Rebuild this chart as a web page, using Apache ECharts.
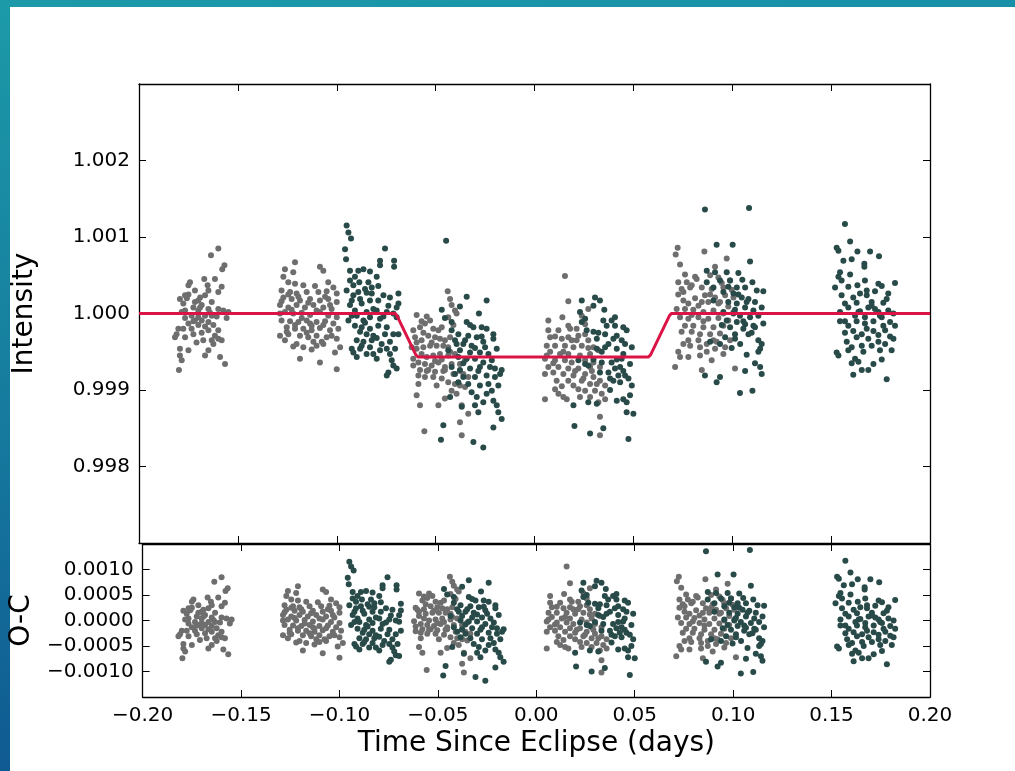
<!DOCTYPE html>
<html>
<head>
<meta charset="utf-8">
<script src="https://cdn.jsdelivr.net/npm/echarts@6/dist/echarts.min.js"></script>
<style>
html,body{margin:0;padding:0;width:1015px;height:771px;overflow:hidden;background:#fff;}
#topstrip{position:absolute;left:0;top:0;width:1015px;height:7px;background:linear-gradient(to right,#1c9aa9,#1790a8);}
#leftstrip{position:absolute;left:0;top:0;width:10px;height:771px;background:linear-gradient(to bottom,#1c9aa8,#167a9e 55%,#0f5a92);}
#chart{position:absolute;left:0;top:0;width:1015px;height:771px;}
</style>
</head>
<body>
<div id="topstrip"></div>
<div id="leftstrip"></div>
<div id="chart"></div>
<script>
// ---- Data (time since eclipse in days, normalized intensity) ----
const xTicks = [-0.20, -0.15, -0.10, -0.05, 0.00, 0.05, 0.10, 0.15, 0.20];
const intensityTicks = [0.998, 0.999, 1.000, 1.001, 1.002];
const ocTicks = [-0.0010, -0.0005, 0.0000, 0.0005, 0.0010];

// eclipse model curve
const modelTime = [-0.2, -0.0705, -0.0695, -0.0600, -0.0588, 0.0575, 0.0587, 0.0682, 0.0692, 0.2];
const modelFlux = [1.0, 1.0, 0.99997, 0.99946, 0.99943, 0.99943, 0.99946, 0.99997, 1.0, 1.0];

const grayA = [[-0.1599,1.00085],[-0.1636,1.00076],[-0.1568,1.00063],[-0.1579,1.00058],[-0.1670,1.00045],[-0.1616,1.00045],[-0.1742,1.00041],[-0.1750,1.00037],[-0.1653,1.00037],[-0.1582,1.00035],[-0.1649,1.00030],[-0.1599,1.00028],[-0.1793,1.00019],[-0.1767,1.00024],[-0.1750,1.00025],[-0.1691,1.00021],[-0.1666,1.00024],[-0.1700,1.00017],[-0.1717,1.00015],[-0.1632,1.00015],[-0.1683,1.00011],[-0.1776,1.00013],[-0.1725,1.00008],[-0.1767,1.00004],[-0.1784,1.00002],[-0.1700,1.00004],[-0.1649,1.00006],[-0.1599,1.00006],[-0.1574,1.00004],[-0.1548,1.00002],[-0.1734,0.99997],[-0.1700,0.99995],[-0.1666,0.99997],[-0.1632,0.99997],[-0.1607,0.99996],[-0.1557,0.99994],[-0.1767,0.99994],[-0.1717,0.99991],[-0.1683,0.99991],[-0.1649,0.99989],[-0.1750,0.99987],[-0.1700,0.99985],[-0.1666,0.99983],[-0.1624,0.99985],[-0.1801,0.99980],[-0.1776,0.99980],[-0.1734,0.99980],[-0.1649,0.99978],[-0.1599,0.99978],[-0.1810,0.99973],[-0.1725,0.99973],[-0.1616,0.99971],[-0.1818,0.99969],[-0.1767,0.99969],[-0.1599,0.99967],[-0.1632,0.99965],[-0.1582,0.99965],[-0.1675,0.99965],[-0.1793,0.99954],[-0.1750,0.99952],[-0.1649,0.99952],[-0.1666,0.99945],[-0.1793,0.99945],[-0.1590,0.99943],[-0.1784,0.99939],[-0.1565,0.99934],[-0.1798,0.99926],
  [-0.1717,1.00030],[-0.1691,1.00008],[-0.1641,1.00001],[-0.1725,0.99990],[-0.1683,0.99975],[-0.1758,1.00020],[-0.1624,0.99960],[-0.1709,0.99962]];

const grayB = [[-0.1211,1.00067],[-0.1262,1.00058],[-0.1220,1.00054],[-0.1085,1.00061],[-0.1068,1.00056],[-0.1270,1.00048],[-0.1245,1.00041],[-0.1211,1.00039],[-0.1169,1.00037],[-0.1110,1.00036],[-0.1043,1.00041],[-0.1017,1.00034],[-0.1279,1.00030],[-0.1236,1.00028],[-0.1203,1.00026],[-0.1152,1.00028],[-0.1093,1.00028],[-0.1051,1.00029],[-0.1000,1.00026],[-0.1270,1.00021],[-0.1228,1.00019],[-0.1186,1.00017],[-0.1135,1.00019],[-0.1085,1.00017],[-0.1043,1.00019],[-0.1000,1.00015],[-0.1287,1.00011],[-0.1245,1.00008],[-0.1203,1.00011],[-0.1161,1.00008],[-0.1118,1.00011],[-0.1068,1.00008],[-0.1026,1.00006],[-0.1262,1.00002],[-0.1220,1.00000],[-0.1177,1.00001],[-0.1135,0.99998],[-0.1085,1.00002],[-0.1043,0.99997],[-0.1000,0.99995],[-0.1279,0.99991],[-0.1236,0.99990],[-0.1194,0.99989],[-0.1152,0.99991],[-0.1102,0.99989],[-0.1059,0.99990],[-0.1017,0.99987],[-0.1253,0.99982],[-0.1211,0.99980],[-0.1169,0.99980],[-0.1127,0.99978],[-0.1085,0.99981],[-0.1034,0.99978],[-0.0992,0.99980],[-0.1287,0.99971],[-0.1245,0.99973],[-0.1186,0.99971],[-0.1144,0.99969],[-0.1102,0.99971],[-0.1051,0.99969],[-0.1000,0.99967],[-0.1262,0.99965],[-0.1203,0.99960],[-0.1118,0.99963],[-0.1076,0.99963],[-0.1220,0.99957],[-0.1169,0.99956],[-0.1127,0.99953],[-0.0983,0.99956],[-0.1068,0.99960],[-0.1009,0.99949],[-0.1186,0.99941],[-0.1085,0.99936],[-0.1000,0.99927],[-0.1253,0.99976],[-0.1287,1.00000],[-0.1135,0.99987],[-0.1026,0.99971],
  [-0.1245,1.00025],[-0.1194,1.00022],[-0.1144,1.00014],[-0.1102,1.00004],[-0.1059,1.00022],[-0.1228,1.00005],[-0.1177,0.99994],[-0.1127,0.99984],[-0.1068,0.99985],[-0.1211,0.99985],[-0.1152,0.99975],[-0.1034,1.00011],[-0.1279,1.00016],[-0.1102,0.99958]];

const darkB = [[-0.0950,1.00115],[-0.0941,1.00106],[-0.0928,1.00098],[-0.0958,1.00084],[-0.0953,1.00071],[-0.0756,1.00085],[-0.0781,1.00069],[-0.0710,1.00069],[-0.0781,1.00063],[-0.0710,1.00061],[-0.0933,1.00056],[-0.0891,1.00056],[-0.0865,1.00058],[-0.0832,1.00055],[-0.0798,1.00048],[-0.0908,1.00048],[-0.0933,1.00043],[-0.0886,1.00041],[-0.0840,1.00041],[-0.0916,1.00037],[-0.0857,1.00032],[-0.0823,1.00034],[-0.0790,1.00036],[-0.0950,1.00030],[-0.0891,1.00028],[-0.0849,1.00027],[-0.0764,1.00024],[-0.0731,1.00021],[-0.0688,1.00026],[-0.0924,1.00017],[-0.0882,1.00019],[-0.0832,1.00017],[-0.0790,1.00017],[-0.0688,1.00013],[-0.0697,1.00008],[-0.0933,1.00011],[-0.0908,1.00004],[-0.0849,1.00002],[-0.0798,1.00004],[-0.0747,1.00002],[-0.0714,1.00000],[-0.0899,0.99997],[-0.0865,0.99991],[-0.0832,0.99995],[-0.0781,0.99993],[-0.0941,0.99991],[-0.0908,0.99984],[-0.0874,0.99982],[-0.0832,0.99980],[-0.0790,0.99984],[-0.0747,0.99982],[-0.0697,0.99995],[-0.0882,0.99976],[-0.0849,0.99973],[-0.0815,0.99971],[-0.0756,0.99973],[-0.0714,0.99973],[-0.0688,0.99973],[-0.0899,0.99965],[-0.0865,0.99963],[-0.0823,0.99965],[-0.0773,0.99960],[-0.0731,0.99963],[-0.0924,0.99954],[-0.0882,0.99954],[-0.0832,0.99956],[-0.0781,0.99952],[-0.0747,0.99954],[-0.0705,0.99954],[-0.0899,0.99943],[-0.0849,0.99947],[-0.0815,0.99947],[-0.0731,0.99947],[-0.0722,0.99939],[-0.0714,0.99932],[-0.0697,0.99928],[-0.0739,0.99923],[-0.0747,0.99919],[-0.0916,0.99949],[-0.0798,0.99941],
  [-0.0916,1.00024],[-0.0874,1.00013],[-0.0815,1.00006],[-0.0857,0.99988],[-0.0798,0.99968],[-0.0764,0.99996],[-0.0739,1.00010],[-0.0924,0.99997],[-0.0874,0.99958],[-0.0823,1.00026]];

const grayC = [[-0.0439,1.00029],[-0.0427,1.00019],[-0.0419,1.00011],[-0.0402,1.00004],[-0.0394,1.00000],[-0.0596,0.99998],[-0.0545,0.99996],[-0.0528,0.99991],[-0.0554,0.99987],[-0.0579,0.99982],[-0.0512,0.99980],[-0.0486,0.99978],[-0.0469,0.99982],[-0.0613,0.99978],[-0.0604,0.99969],[-0.0571,0.99965],[-0.0537,0.99971],[-0.0503,0.99969],[-0.0478,0.99967],[-0.0453,0.99965],[-0.0427,0.99969],[-0.0621,0.99956],[-0.0596,0.99954],[-0.0562,0.99956],[-0.0528,0.99958],[-0.0495,0.99958],[-0.0461,0.99958],[-0.0436,0.99956],[-0.0571,0.99947],[-0.0545,0.99943],[-0.0512,0.99945],[-0.0478,0.99947],[-0.0436,0.99945],[-0.0402,0.99947],[-0.0613,0.99941],[-0.0587,0.99936],[-0.0554,0.99934],[-0.0520,0.99932],[-0.0486,0.99936],[-0.0453,0.99930],[-0.0419,0.99934],[-0.0377,0.99934],[-0.0351,0.99939],[-0.0613,0.99932],[-0.0579,0.99926],[-0.0537,0.99926],[-0.0503,0.99924],[-0.0453,0.99926],[-0.0410,0.99921],[-0.0360,0.99921],[-0.0335,0.99917],[-0.0587,0.99919],[-0.0554,0.99917],[-0.0512,0.99917],[-0.0469,0.99915],[-0.0436,0.99910],[-0.0402,0.99908],[-0.0377,0.99906],[-0.0351,0.99904],[-0.0587,0.99908],[-0.0495,0.99906],[-0.0419,0.99899],[-0.0394,0.99895],[-0.0596,0.99893],[-0.0453,0.99889],[-0.0368,0.99880],[-0.0579,0.99880],[-0.0486,0.99880],[-0.0335,0.99869],[-0.0377,0.99858],[-0.0557,0.99846],[-0.0368,0.99841],
  [-0.0562,0.99975],[-0.0520,0.99962],[-0.0469,0.99940],[-0.0427,0.99950],[-0.0596,0.99962],[-0.0545,0.99925],[-0.0503,0.99938],[-0.0461,0.99925],[-0.0410,0.99985],[-0.0436,0.99995],[-0.0571,0.99990],[-0.0377,0.99925]];

const darkC = [[-0.0447,1.00095],[-0.0343,1.00022],[-0.0242,1.00017],[-0.0469,1.00005],[-0.0377,1.00009],[-0.0281,1.00000],[-0.0453,0.99994],[-0.0419,0.99989],[-0.0343,0.99989],[-0.0309,0.99982],[-0.0267,0.99982],[-0.0242,0.99980],[-0.0208,0.99973],[-0.0419,0.99978],[-0.0385,0.99973],[-0.0335,0.99971],[-0.0292,0.99969],[-0.0208,0.99967],[-0.0402,0.99965],[-0.0360,0.99960],[-0.0318,0.99958],[-0.0250,0.99956],[-0.0191,0.99954],[-0.0436,0.99952],[-0.0377,0.99952],[-0.0326,0.99949],[-0.0276,0.99949],[-0.0233,0.99947],[-0.0385,0.99943],[-0.0343,0.99941],[-0.0301,0.99941],[-0.0259,0.99936],[-0.0216,0.99939],[-0.0419,0.99930],[-0.0377,0.99926],[-0.0326,0.99928],[-0.0276,0.99930],[-0.0200,0.99928],[-0.0166,0.99926],[-0.0402,0.99921],[-0.0360,0.99917],[-0.0301,0.99917],[-0.0242,0.99919],[-0.0200,0.99917],[-0.0174,0.99921],[-0.0385,0.99910],[-0.0335,0.99908],[-0.0276,0.99906],[-0.0233,0.99908],[-0.0183,0.99906],[-0.0318,0.99897],[-0.0292,0.99891],[-0.0259,0.99884],[-0.0208,0.99886],[-0.0191,0.99880],[-0.0427,0.99891],[-0.0301,0.99880],[-0.0284,0.99871],[-0.0183,0.99871],[-0.0166,0.99862],[-0.0461,0.99854],[-0.0208,0.99851],[-0.0309,0.99832],[-0.0259,0.99825],[-0.0473,0.99835],[-0.0368,0.99878],[-0.0216,0.99899],
  [-0.0351,0.99965],[-0.0301,0.99955],[-0.0259,0.99963],[-0.0360,0.99935],[-0.0284,0.99925],[-0.0225,0.99930],[-0.0326,0.99985],[-0.0267,0.99970],[-0.0394,0.99960],[-0.0242,0.99895]];

const grayD = [[0.0154,1.00049],[0.0171,1.00016],[0.0272,1.00006],[0.0070,0.99991],[0.0141,0.99995],[0.0239,0.99997],[0.0256,0.99986],[0.0171,0.99984],[0.0213,0.99980],[0.0070,0.99978],[0.0121,0.99978],[0.0222,0.99971],[0.0256,0.99973],[0.0079,0.99969],[0.0138,0.99967],[0.0171,0.99969],[0.0213,0.99965],[0.0272,0.99965],[0.0062,0.99958],[0.0104,0.99958],[0.0154,0.99958],[0.0197,0.99956],[0.0239,0.99958],[0.0298,0.99956],[0.0079,0.99950],[0.0129,0.99947],[0.0171,0.99947],[0.0281,0.99947],[0.0323,0.99952],[0.0053,0.99941],[0.0104,0.99939],[0.0154,0.99939],[0.0188,0.99936],[0.0256,0.99939],[0.0298,0.99936],[0.0070,0.99930],[0.0121,0.99930],[0.0171,0.99928],[0.0222,0.99928],[0.0281,0.99930],[0.0331,0.99930],[0.0053,0.99921],[0.0095,0.99923],[0.0146,0.99921],[0.0197,0.99919],[0.0256,0.99921],[0.0298,0.99917],[0.0331,0.99912],[0.0112,0.99912],[0.0171,0.99912],[0.0239,0.99912],[0.0281,0.99908],[0.0315,0.99908],[0.0357,0.99906],[0.0104,0.99901],[0.0197,0.99906],[0.0222,0.99901],[0.0256,0.99899],[0.0306,0.99899],[0.0340,0.99895],[0.0121,0.99895],[0.0163,0.99888],[0.0230,0.99891],[0.0281,0.99891],[0.0053,0.99888],[0.0146,0.99891],[0.0323,0.99884],[0.0357,0.99888],[0.0331,0.99865],[0.0331,0.99841],
  [0.0104,0.99970],[0.0146,0.99950],[0.0188,0.99965],[0.0230,0.99945],[0.0272,0.99955],[0.0095,0.99935],[0.0205,0.99925],[0.0247,0.99915],[0.0138,0.99905],[0.0180,0.99980],[0.0062,0.99945],[0.0290,0.99925]];

const darkD = [[0.0239,1.00017],[0.0306,1.00021],[0.0331,1.00017],[0.0298,1.00010],[0.0353,1.00005],[0.0230,1.00002],[0.0256,0.99993],[0.0239,0.99989],[0.0348,0.99991],[0.0390,0.99991],[0.0407,0.99984],[0.0365,0.99984],[0.0449,0.99982],[0.0264,0.99978],[0.0298,0.99976],[0.0357,0.99973],[0.0416,0.99971],[0.0466,0.99978],[0.0315,0.99967],[0.0399,0.99967],[0.0441,0.99965],[0.0492,0.99956],[0.0357,0.99956],[0.0315,0.99954],[0.0416,0.99954],[0.0449,0.99947],[0.0222,0.99939],[0.0256,0.99934],[0.0340,0.99936],[0.0390,0.99936],[0.0441,0.99941],[0.0483,0.99934],[0.0407,0.99928],[0.0449,0.99925],[0.0331,0.99923],[0.0374,0.99923],[0.0424,0.99919],[0.0458,0.99919],[0.0272,0.99932],[0.0399,0.99912],[0.0433,0.99910],[0.0492,0.99906],[0.0382,0.99915],[0.0449,0.99888],[0.0483,0.99893],[0.0416,0.99886],[0.0466,0.99884],[0.0197,0.99880],[0.0272,0.99884],[0.0315,0.99882],[0.0466,0.99871],[0.0500,0.99869],[0.0202,0.99853],[0.0348,0.99850],[0.0475,0.99836],[0.0281,0.99843],
  [0.0374,0.99960],[0.0416,0.99940],[0.0458,0.99960],[0.0340,0.99950],[0.0382,0.99900],[0.0433,0.99930],[0.0475,0.99915],[0.0323,0.99975],[0.0407,0.99995],[0.0298,0.99940]];

const grayE = [[0.0724,1.00086],[0.0714,1.00077],[0.0736,1.00064],[0.0859,1.00081],[0.0913,1.00061],[0.0972,1.00072],[0.0761,1.00051],[0.0812,1.00048],[0.0727,1.00041],[0.0770,1.00041],[0.0888,1.00050],[0.0930,1.00047],[0.0989,1.00043],[0.0744,1.00032],[0.0787,1.00034],[0.0846,1.00034],[0.0896,1.00032],[0.0955,1.00034],[0.0997,1.00031],[0.0727,1.00025],[0.0812,1.00020],[0.0862,1.00024],[0.0913,1.00021],[0.0964,1.00024],[0.1006,1.00021],[0.0753,1.00017],[0.0778,1.00013],[0.0829,1.00010],[0.0879,1.00015],[0.0930,1.00013],[0.0980,1.00009],[0.0719,1.00006],[0.0761,1.00006],[0.0803,1.00005],[0.0854,1.00002],[0.0905,1.00004],[0.0955,1.00000],[0.1006,1.00002],[0.0736,0.99995],[0.0778,0.99993],[0.0829,0.99995],[0.0879,0.99993],[0.0930,0.99994],[0.0980,0.99991],[0.0761,0.99984],[0.0803,0.99984],[0.0854,0.99982],[0.0905,0.99982],[0.0955,0.99984],[0.0744,0.99976],[0.0795,0.99976],[0.0837,0.99973],[0.0888,0.99973],[0.0938,0.99974],[0.0778,0.99965],[0.0829,0.99965],[0.0871,0.99960],[0.0921,0.99963],[0.0989,0.99965],[0.0787,0.99958],[0.0837,0.99956],[0.0913,0.99954],[0.0964,0.99956],[0.0727,0.99950],[0.0736,0.99943],[0.0778,0.99943],[0.0837,0.99945],[0.0955,0.99947],[0.0711,0.99930],[0.0846,0.99926],[0.1014,0.99928],[0.0896,0.99939],
  [0.0753,1.00028],[0.0795,1.00037],[0.0846,1.00015],[0.0888,1.00025],[0.0938,1.00015],[0.0795,0.99998],[0.0854,0.99990],[0.0905,0.99965],[0.0753,0.99960],[0.0820,1.00045],[0.0947,1.00040],[0.0871,0.99950]];

const darkE = [[0.0862,1.00136],[0.1085,1.00138],[0.0921,1.00090],[0.1002,1.00090],[0.1090,1.00068],[0.0871,1.00056],[0.0913,1.00054],[0.0972,1.00054],[0.1031,1.00053],[0.0871,1.00041],[0.0938,1.00043],[0.0989,1.00043],[0.1051,1.00044],[0.1102,1.00041],[0.0905,1.00034],[0.1023,1.00034],[0.1065,1.00034],[0.1157,1.00029],[0.0955,1.00028],[0.1006,1.00026],[0.1048,1.00021],[0.1082,1.00019],[0.1115,1.00015],[0.0905,1.00017],[0.0980,1.00015],[0.1023,1.00013],[0.1065,1.00008],[0.1107,1.00004],[0.1149,1.00008],[0.0955,1.00002],[0.1006,1.00000],[0.1039,0.99997],[0.1090,0.99995],[0.1132,0.99997],[0.0972,0.99991],[0.1023,0.99989],[0.1065,0.99986],[0.1107,0.99984],[0.1157,0.99987],[0.0989,0.99982],[0.1056,0.99980],[0.1115,0.99982],[0.1014,0.99973],[0.1082,0.99973],[0.0964,0.99969],[0.1014,0.99967],[0.0888,0.99963],[0.1132,0.99965],[0.1149,0.99960],[0.1141,0.99954],[0.0938,0.99960],[0.1073,0.99946],[0.1132,0.99950],[0.1115,0.99935],[0.1141,0.99930],[0.1149,0.99921],[0.0862,0.99919],[0.0938,0.99917],[0.0921,0.99910],[0.1039,0.99896],[0.1102,0.99899],[0.1065,0.99925],
  [0.0980,1.00035],[0.1031,1.00025],[0.1073,1.00015],[0.1014,1.00005],[0.1056,0.99990],[0.1098,0.99975],[0.1124,1.00030],[0.0947,0.99985],[0.1040,0.99960],[0.0997,0.99955]];

const darkF = [[0.1570,1.00117],[0.1596,1.00094],[0.1528,1.00086],[0.1537,1.00082],[0.1633,1.00081],[0.1697,1.00081],[0.1742,1.00075],[0.1604,1.00071],[0.1562,1.00069],[0.1668,1.00065],[0.1668,1.00061],[0.1545,1.00054],[0.1596,1.00051],[0.1537,1.00048],[0.1553,1.00043],[0.1823,1.00040],[0.1739,1.00039],[0.1756,1.00036],[0.1633,1.00037],[0.1520,1.00034],[0.1680,1.00030],[0.1722,1.00029],[0.1789,1.00026],[0.1553,1.00024],[0.1612,1.00021],[0.1680,1.00024],[0.1781,1.00019],[0.1570,1.00013],[0.1629,1.00014],[0.1705,1.00015],[0.1764,1.00014],[0.1587,1.00008],[0.1688,1.00008],[0.1722,1.00006],[0.1789,1.00004],[0.1545,1.00002],[0.1646,1.00003],[0.1815,1.00000],[0.1747,0.99997],[0.1671,0.99995],[0.1545,0.99990],[0.1629,0.99990],[0.1714,0.99990],[0.1798,0.99989],[0.1587,0.99984],[0.1671,0.99987],[0.1764,0.99984],[0.1823,0.99984],[0.1612,0.99977],[0.1714,0.99977],[0.1655,0.99973],[0.1773,0.99978],[0.1629,0.99969],[0.1688,0.99967],[0.1579,0.99963],[0.1739,0.99963],[0.1815,0.99967],[0.1604,0.99956],[0.1655,0.99958],[0.1773,0.99960],[0.1705,0.99958],[0.1587,0.99952],[0.1747,0.99952],[0.1528,0.99949],[0.1537,0.99945],[0.1806,0.99952],[0.1621,0.99941],[0.1638,0.99937],[0.1714,0.99934],[0.1655,0.99926],[0.1688,0.99926],[0.1612,0.99920],[0.1781,0.99914],[0.1570,0.99990],[0.1739,1.00002],[0.1671,1.00043],[0.1638,1.00002],
  [0.1587,1.00035],[0.1646,1.00026],[0.1705,1.00010],[0.1756,0.99995],[0.1621,0.99997],[0.1680,0.99980],[0.1739,0.99972],[0.1798,0.99970],[0.1570,0.99975],[0.1663,0.99950],[0.1604,0.99935],[0.1756,0.99940]];

// ---- Build ----
const grayPts = [].concat(grayA, grayB, grayC, grayD, grayE);
const darkPts = [].concat(darkB, darkC, darkD, darkE, darkF);
const modelLine = modelTime.map((t, i) => [t, modelFlux[i]]);

function modelAt(x) {
  for (let i = 0; i < modelTime.length - 1; i++) {
    if (x <= modelTime[i + 1]) {
      const f = (x - modelTime[i]) / (modelTime[i + 1] - modelTime[i]);
      return modelFlux[i] + f * (modelFlux[i + 1] - modelFlux[i]);
    }
  }
  return modelFlux[modelFlux.length - 1];
}
const grayOC = grayPts.map(p => [p[0], p[1] - modelAt(p[0])]);
const darkOC = darkPts.map(p => [p[0], p[1] - modelAt(p[0])]);

const GRAY = '#6e6e6e';
const DARK = '#284a48';
const FONT = 'DejaVu Sans';
const TICK_FS = 20;
const NAME_FS = 28;

function signed(v, d) {
  if (Math.abs(v) < 1e-12) return (0).toFixed(d);
  return (v < 0 ? '\u2212' : '') + Math.abs(v).toFixed(d);
}

function xAxisDef(grid, pos, labels, name) {
  return {
    type: 'value', gridIndex: grid, position: pos,
    min: xTicks[0], max: xTicks[xTicks.length - 1], interval: 0.05,
    axisLine: { show: true, onZero: false, lineStyle: { color: '#000', width: 1.3 } },
    axisTick: { show: true, inside: true, length: 7, lineStyle: { color: '#000', width: 1 } },
    axisLabel: { show: labels, margin: 9, color: '#000', fontFamily: FONT, fontSize: TICK_FS,
      formatter: v => signed(v, 2) },
    splitLine: { show: false },
    name: name || '', nameLocation: 'middle', nameGap: 33,
    nameTextStyle: { color: '#000', fontFamily: FONT, fontSize: NAME_FS }
  };
}
function yAxisDef(grid, pos, labels, min, max, interval, dec, name) {
  return {
    type: 'value', gridIndex: grid, position: pos,
    min: min, max: max, interval: interval,
    axisLine: { show: true, onZero: false, lineStyle: { color: '#000', width: 1.3 } },
    axisTick: { show: true, inside: true, length: 7, lineStyle: { color: '#000', width: 1 } },
    axisLabel: { show: labels, margin: 9, color: '#000', fontFamily: FONT, fontSize: TICK_FS,
      showMinLabel: false, showMaxLabel: false,
      formatter: v => signed(v, dec) },
    splitLine: { show: false },
    name: name || '', nameLocation: 'middle', nameGap: 100, nameRotate: 90,
    nameTextStyle: { color: '#000', fontFamily: FONT, fontSize: NAME_FS }
  };
}

const chart = echarts.init(document.getElementById('chart'), null, { renderer: 'canvas' });
chart.setOption({
  animation: false,
  backgroundColor: 'transparent',
  grid: [
    { left: 139, top: 84, width: 791, height: 459 },
    { left: 139, top: 544, width: 791, height: 153 }
  ],
  xAxis: [
    xAxisDef(0, 'bottom', false),
    xAxisDef(0, 'top', false),
    xAxisDef(1, 'bottom', true, 'Time Since Eclipse (days)'),
    xAxisDef(1, 'top', false)
  ],
  yAxis: [
    yAxisDef(0, 'left', true, 0.997, 1.003, 0.001, 3, 'Intensity'),
    yAxisDef(0, 'right', false, 0.997, 1.003, 0.001, 3),
    yAxisDef(1, 'left', true, -0.0015, 0.0015, 0.0005, 4, 'O-C'),
    yAxisDef(1, 'right', false, -0.0015, 0.0015, 0.0005, 4)
  ],
  series: [
    { type: 'scatter', xAxisIndex: 0, yAxisIndex: 0, data: grayPts, symbolSize: 6,
      itemStyle: { color: GRAY, opacity: 1 }, z: 2 },
    { type: 'scatter', xAxisIndex: 0, yAxisIndex: 0, data: darkPts, symbolSize: 6,
      itemStyle: { color: DARK, opacity: 1 }, z: 3 },
    { type: 'line', xAxisIndex: 0, yAxisIndex: 0, data: modelLine, symbol: 'none',
      lineStyle: { color: '#dc1446', width: 3 }, z: 5 },
    { type: 'scatter', xAxisIndex: 2, yAxisIndex: 2, data: grayOC, symbolSize: 6,
      itemStyle: { color: GRAY, opacity: 1 }, z: 2 },
    { type: 'scatter', xAxisIndex: 2, yAxisIndex: 2, data: darkOC, symbolSize: 6,
      itemStyle: { color: DARK, opacity: 1 }, z: 3 }
  ]
});
</script>
</body>
</html>
